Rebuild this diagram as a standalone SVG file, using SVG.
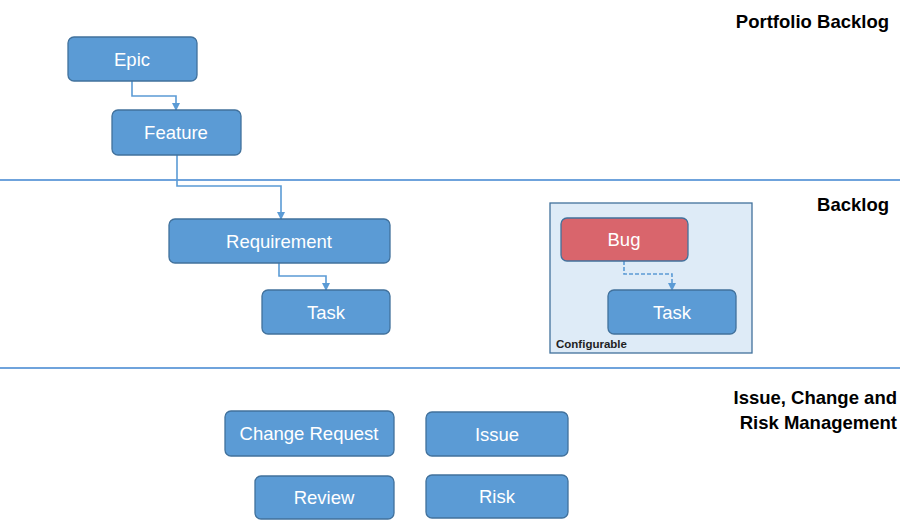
<svg xmlns="http://www.w3.org/2000/svg" width="900" height="520" viewBox="0 0 900 520">
<defs>
<marker id="ah" markerWidth="8" markerHeight="8" refX="7" refY="4" orient="auto" markerUnits="userSpaceOnUse">
<path d="M0,0 L8,4 L0,8 z" fill="#5b9bd5"/>
</marker>
<style>
.node rect{fill:#5b9bd5;stroke:#41719c;stroke-width:1.3}
.node text{fill:#ffffff;font-family:"Liberation Sans",Arial,sans-serif;font-size:18.5px;text-anchor:middle}
.bug rect{fill:#d9656c;stroke:#41719c}
.sep{stroke:#6fa3dc;stroke-width:2}
.conn{fill:none;stroke:#5b9bd5;stroke-width:1.6}
.dash{stroke-dasharray:4 2}
.lbl{font-family:"Liberation Sans",Arial,sans-serif;font-weight:bold;font-size:18.5px;fill:#000;text-anchor:end}
</style>
</defs>
<rect width="900" height="520" fill="#ffffff"/>
<line class="sep" x1="0" y1="180" x2="900" y2="180"/>
<line class="sep" x1="0" y1="368" x2="900" y2="368"/>
<text class="lbl" x="889" y="28">Portfolio Backlog</text>
<text class="lbl" x="889" y="211">Backlog</text>
<text class="lbl" x="897" y="404">Issue, Change and</text>
<text class="lbl" x="897" y="429">Risk Management</text>
<g id="configurable">
<rect x="550" y="203" width="202" height="150" fill="#deebf7" stroke="#41719c" stroke-width="1.3"/>
<text x="556" y="348" font-family="Liberation Sans,Arial,sans-serif" font-size="11.5" font-weight="bold" fill="#222">Configurable</text>
</g>
<g id="connectors">
<path class="conn" d="M132,81 V96 H176 V110" marker-end="url(#ah)"/>
<path class="conn" d="M177,155 V186 H281 V219" marker-end="url(#ah)"/>
<path class="conn" d="M279,263 V276 H326 V290" marker-end="url(#ah)"/>
<path class="conn dash" d="M624,261 V274 H672 V290" marker-end="url(#ah)"/>
</g>
<g id="epic" class="node"><rect x="68" y="37" width="129" height="44" rx="6"/><text x="132" y="66">Epic</text></g>
<g id="feature" class="node"><rect x="112" y="110" width="129" height="45" rx="6"/><text x="176" y="139">Feature</text></g>
<g id="requirement" class="node"><rect x="169" y="219" width="221" height="44" rx="6"/><text x="279" y="248">Requirement</text></g>
<g id="task" class="node"><rect x="262" y="290" width="128" height="44" rx="6"/><text x="326" y="319">Task</text></g>
<g id="bug" class="node bug"><rect x="561" y="218" width="127" height="43" rx="6"/><text x="624" y="246">Bug</text></g>
<g id="task2" class="node"><rect x="608" y="290" width="128" height="44" rx="6"/><text x="672" y="319">Task</text></g>
<g id="change-request" class="node"><rect x="225" y="411" width="169" height="45" rx="6"/><text x="309" y="440">Change Request</text></g>
<g id="issue" class="node"><rect x="426" y="412" width="142" height="44" rx="6"/><text x="497" y="441">Issue</text></g>
<g id="review" class="node"><rect x="255" y="476" width="139" height="43" rx="6"/><text x="324" y="504">Review</text></g>
<g id="risk" class="node"><rect x="426" y="475" width="142" height="43" rx="6"/><text x="497" y="503">Risk</text></g>
</svg>
